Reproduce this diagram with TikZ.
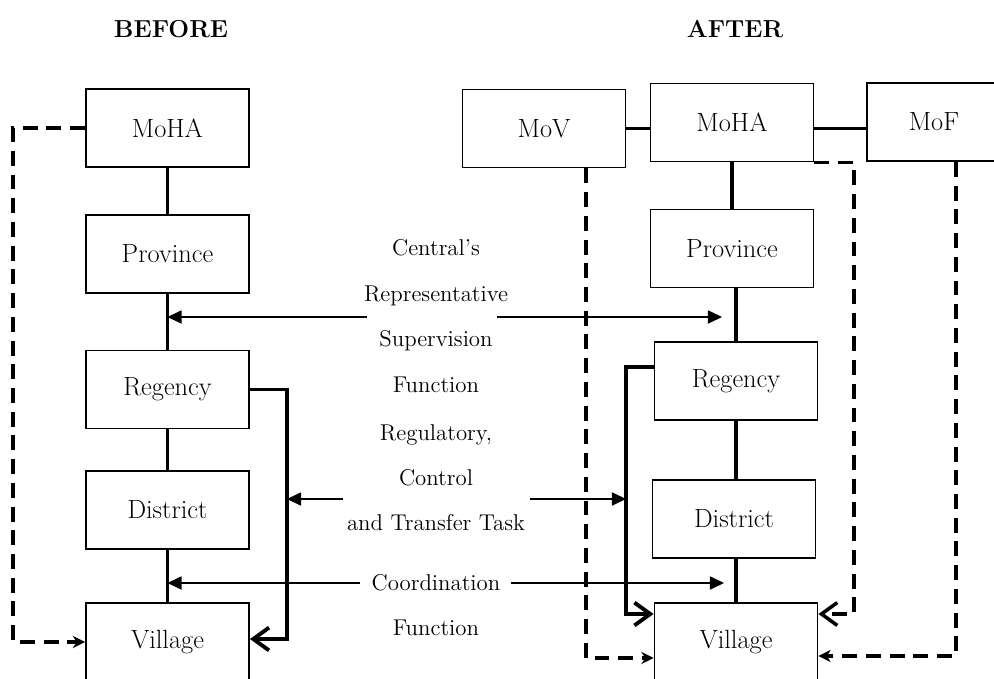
\documentclass[tikz,border=0pt]{standalone}
\usetikzlibrary{arrows.meta,calc}

\begin{document}
\begin{tikzpicture}[x=0.02cm,y=-0.02cm,
		box_style/.style={draw=black,line width=1.1pt,minimum width=3.26cm,minimum height=1.56cm,inner sep=0pt,font=\fontsize{15}{18}\selectfont},
		label_style/.style={anchor=base,font=\fontsize{13}{15}\selectfont},
		head_style/.style={anchor=base,font=\fontsize{14}{16}\selectfont\bfseries},
		link_style/.style={draw=black,line width=2.2pt},
		dash_style/.style={draw=black,line width=2pt,dash pattern=on 8.5pt off 5pt},
		arrow_style/.style={draw=black,line width=0.7pt,-{Triangle[length=8pt,width=7.5pt]}},
		open_tip/.style={-{Straight Barb[length=9pt,width=13pt]}},
		small_tip/.style={-{Stealth[length=7pt,width=7pt]}}]

		\useasboundingbox (0,0) rectangle (994,679);

		\node[head_style] (before) at (171,38) {BEFORE};
		\node[head_style] (after) at (735,38) {AFTER};

		% before
		\node[box_style] (lmoha) at (167.5,128)  {MoHA};
		\node[box_style] (lprov) at (167.5,254)  {Province};
		\node[box_style] (lreg) at (167.5,389.5)  {Regency};
		\node[box_style] (ldist) at (167.5,510)  {District};
		\node[box_style] (lvil) at (167.5,642)  {Village};

		\draw[link_style] (lmoha) -- (lprov);
		\draw[link_style] (lprov) -- (lreg);
		\draw[link_style] (lreg) -- (ldist);
		\draw[link_style] (ldist) -- (lvil);

		\coordinate (lcorner) at (13,642);
		\draw[dash_style,small_tip] (lmoha.west) -| (lcorner) -- (lvil.west);
		\coordinate (lbrk) at (287,639);
		\draw[link_style,open_tip] (lreg.east) -| (lbrk) -- (lbrk -| lvil.east);

		% after
		\node[box_style] (rmov) at (544,128.5)  {MoV};
		\node[box_style] (rmoha) at (732,122.5)  {MoHA};
		\node[box_style,minimum width=2.68cm] (rmof) at (934,122)  {MoF};
		\node[box_style] (rprov) at (732,248.5)  {Province};
		\node[box_style] (rreg) at (736,381)  {Regency};
		\node[box_style] (rdist) at (734,519)  {District};
		\node[box_style] (rvil) at (736,642)  {Village};

		\draw[link_style] (rmov.east) -- (rmov.east -| rmoha.west);
		\draw[link_style] (rmov.east -| rmoha.east) -- (rmov.east -| rmof.west);
		\draw[link_style] (rmoha) -- (rprov);
		\draw[link_style] (rreg.north |- rprov.south) -- (rreg.north);
		\draw[link_style] (rreg.south) -- (rreg.south |- rdist.north);
		\draw[link_style] (rvil.north |- rdist.south) -- (rvil.north);

		\coordinate (rbrkt) at (626,367);
		\coordinate (rbrkb) at (626,614);
		\draw[link_style,open_tip] (rbrkt -| rreg.west) -- (rbrkt) -- (rbrkb) -- (rbrkb -| rvil.west);

		\coordinate (movc) at (586,658);
		\draw[dash_style,small_tip] (movc |- rmov.south) -- (movc) -- (movc -| rvil.west);
		\coordinate (mohac) at (854,614);
		\draw[dash_style,open_tip] (rmoha.south east) -- (rmoha.south east -| mohac) -- (mohac) -- (mohac -| rvil.east);
		\coordinate (mofc) at (956,656);
		\draw[dash_style,small_tip] (mofc |- rmof.south) -- (mofc) -- (mofc -| rvil.east);

		% functions in the middle
		\node[label_style] (tcentral) at (436,255) {Central's};
		\node[label_style] (trepr) at (436,301) {Representative};
		\node[label_style] (tsuper) at (436,346) {Supervision};
		\node[label_style] (tfunc) at (436,392) {Function};
		\node[label_style] (tregul) at (436,440) {Regulatory,};
		\node[label_style] (tcontrol) at (436,485) {Control};
		\node[label_style] (ttransfer) at (436,530) {and Transfer Task};
		\node[label_style] (tcoord) at (436,590) {Coordination};
		\node[label_style] (tfunc2) at (436,635) {Function};

		\coordinate (a1l) at (367,317);
		\coordinate (a1r) at (497,317);
		\coordinate (a1t) at (722,317);
		\draw[arrow_style] (a1l) -- (a1l -| lprov.south);
		\draw[arrow_style] (a1r) -- (a1t);

		\coordinate (a2l) at (343,499);
		\coordinate (a2r) at (530,499);
		\draw[arrow_style] (a2l) -- (a2l -| lbrk);
		\draw[arrow_style] (a2r) -- (a2r -| rbrkt);

		\coordinate (a3l) at (360,583);
		\coordinate (a3r) at (511,583);
		\coordinate (a3t) at (724,583);
		\draw[arrow_style] (a3l) -- (a3l -| ldist.south);
		\draw[arrow_style] (a3r) -- (a3t);

\end{tikzpicture}
\end{document}
